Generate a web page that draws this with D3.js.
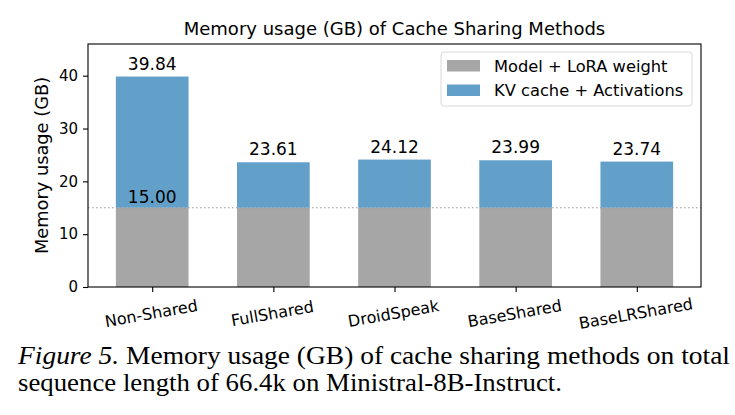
<!DOCTYPE html>
<html><head><meta charset="utf-8">
<script src="https://cdn.jsdelivr.net/npm/d3@7"></script>
<style>body{margin:0;background:#fff}svg{display:block}</style>
</head><body>
<svg id="c" width="735" height="415"></svg>
<script>
const categories = ["Non-Shared","FullShared","DroidSpeak","BaseShared","BaseLRShared"];
const baseValues = [15.00,15.00,15.00,15.00,15.00];
const totalValues = [39.84,23.61,24.12,23.99,23.74];
const seriesNames = ["Model + LoRA weight","KV cache + Activations"];
const yTicks = [0,10,20,30,40];
const baseLine = 15.00;

const svg = d3.select("#c");
const m = {left:88, right:701, top:44, bottom:287};
const font = "DejaVu Sans, sans-serif";
const grey = "#a6a6a6", blue = "#62a0ca";

const n = categories.length;
const xl = d3.scaleLinear().domain([-0.53, n-1+0.53]).range([m.left, m.right]);
const y = d3.scaleLinear().domain([0, 46]).range([m.bottom, m.top]);
const bw = xl(0.6) - xl(0);

const g = svg.append("g");
g.selectAll(".b").data(categories).enter().append("rect")
  .attr("x",(d,i)=>xl(i)-bw/2).attr("width",bw)
  .attr("y",(d,i)=>y(baseValues[i])).attr("height",(d,i)=>y(0)-y(baseValues[i]))
  .attr("fill",grey);
g.selectAll(".t").data(categories).enter().append("rect")
  .attr("x",(d,i)=>xl(i)-bw/2).attr("width",bw)
  .attr("y",(d,i)=>y(totalValues[i])).attr("height",(d,i)=>y(baseValues[i])-y(totalValues[i]))
  .attr("fill",blue);

g.append("line").attr("x1",m.left).attr("x2",m.right).attr("y1",y(baseLine)).attr("y2",y(baseLine))
  .attr("stroke","#999").attr("stroke-width",1.2).attr("stroke-dasharray","1.5,2.5");

g.selectAll(".v").data(categories).enter().append("text")
  .attr("x",(d,i)=>xl(i)).attr("y",(d,i)=>y(totalValues[i])-7)
  .attr("text-anchor","middle").attr("font-family",font).attr("font-size",17)
  .text((d,i)=>totalValues[i].toFixed(2));
g.append("text").attr("x",xl(0)).attr("y",y(baseLine)-5).attr("text-anchor","middle")
  .attr("font-family",font).attr("font-size",17).text(baseLine.toFixed(2));

const yAxis = d3.axisLeft(y).tickValues(yTicks).tickSize(5).tickPadding(5).tickFormat(d3.format("d"));
const ya = svg.append("g").attr("transform",`translate(${m.left},0)`).call(yAxis);
ya.select(".domain").remove();
ya.selectAll("text").attr("font-family",font).attr("font-size",15).attr("fill","#000");
ya.selectAll("line").attr("stroke","#000").attr("stroke-width",1.1);

const xAxis = d3.axisBottom(xl).tickValues(d3.range(n)).tickSize(5).tickFormat("").tickSizeOuter(0);
const xa = svg.append("g").attr("transform",`translate(0,${m.bottom})`).call(xAxis);
xa.select(".domain").remove();
xa.selectAll("line").attr("stroke","#000").attr("stroke-width",1.1);
svg.append("g").selectAll("text").data(categories).enter().append("text")
  .attr("transform",(d,i)=>`translate(${xl(i)},${m.bottom+32}) rotate(-10)`)
  .attr("text-anchor","middle").attr("font-family",font).attr("font-size",16)
  .text(d=>d);

svg.append("rect").attr("x",m.left).attr("y",m.top).attr("width",m.right-m.left).attr("height",m.bottom-m.top)
  .attr("fill","none").attr("stroke","#000").attr("stroke-width",1.1);

svg.append("text").attr("x",(m.left+m.right)/2).attr("y",35).attr("text-anchor","middle")
  .attr("font-family",font).attr("font-size",18).text("Memory usage (GB) of Cache Sharing Methods");
svg.append("text").attr("transform",`translate(48,${(m.top+m.bottom)/2}) rotate(-90)`)
  .attr("text-anchor","middle").attr("font-family",font).attr("font-size",17.8).text("Memory usage (GB)");

const lg = svg.append("g");
lg.append("rect").attr("x",441).attr("y",52).attr("width",251).attr("height",54).attr("rx",3)
  .attr("fill","#fff").attr("fill-opacity",0.8).attr("stroke","#d8d8d8");
[grey,blue].forEach((c,i)=>{
  lg.append("rect").attr("x",447).attr("y",60+i*24.5).attr("width",33).attr("height",11.5).attr("fill",c);
  lg.append("text").attr("x",494).attr("y",71.5+i*24.5).attr("font-family",font).attr("font-size",16.3).text(seriesNames[i]);
});

const serif = "Liberation Serif, Times New Roman, serif";
const cap = svg.append("text").attr("x",18).attr("y",364).attr("font-family",serif).attr("font-size",26)
  .attr("textLength",712).attr("lengthAdjust","spacingAndGlyphs");
cap.append("tspan").attr("font-style","italic").text("Figure 5.");
cap.append("tspan").text(" Memory usage (GB) of cache sharing methods on total");
svg.append("text").attr("x",18).attr("y",391).attr("font-family",serif).attr("font-size",26)
  .attr("textLength",544).attr("lengthAdjust","spacingAndGlyphs")
  .text("sequence length of 66.4k on Ministral-8B-Instruct.");
</script>
</body></html>
